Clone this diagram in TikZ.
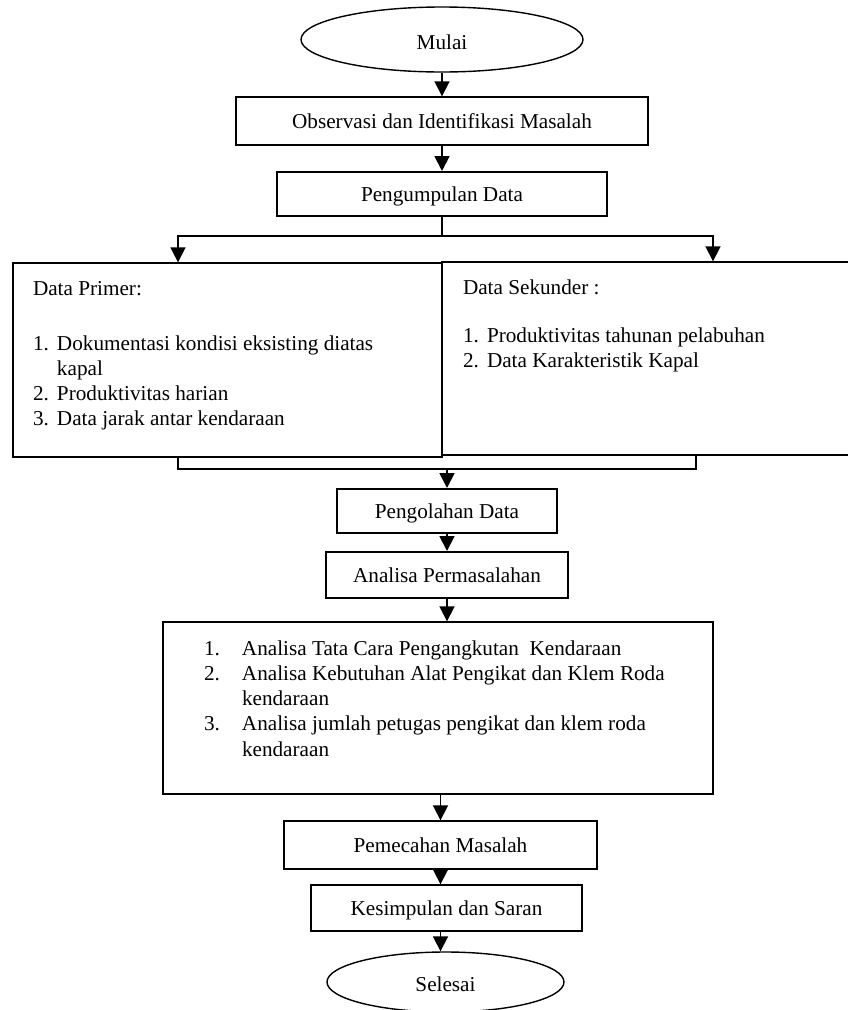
\documentclass[tikz,border=0pt]{standalone}
\usepackage{fontspec}
\setmainfont{Liberation Serif}
\usetikzlibrary{shapes.geometric, arrows.meta, calc}

\begin{document}
\begin{tikzpicture}[x=1pt, y=-1pt, every node/.style={font=\fontsize{21.2}{25.3}\selectfont}]
% Styles
\tikzstyle{terminal} = [ellipse, draw=black, line width=1.4pt, text centered, inner sep=0pt]
\tikzstyle{process} = [rectangle, draw=black, line width=1.4pt, text centered, text height=15pt, text depth=0pt, inner sep=0pt]
\tikzstyle{processbold} = [process, line width=2pt]
\tikzstyle{listbox} = [rectangle, draw=black, line width=1.4pt, inner ysep=0pt]
\tikzstyle{connector} = [line width=1.8pt]
\tikzstyle{arrow} = [connector, -{Triangle[length=15pt, width=15pt]}]

\useasboundingbox (0,0) rectangle (848,1010);

\node (mulai) [terminal, minimum width=282pt, minimum height=65pt, text height=19pt, text depth=0pt] at (442,39.5) {Mulai};
\node (observasi) [process, minimum width=412pt, minimum height=48pt] at (442,121) {Observasi dan Identifikasi Masalah};
\node (pengumpulan) [processbold, minimum width=330pt, minimum height=44pt] at (442,194) {Pengumpulan Data};
\node (primer) [listbox, inner xsep=20pt] at (227.5,360) {\parbox[c][194pt][t]{389pt}{\rule{0pt}{32pt}Data Primer:\\[29.7pt]
  \makebox[24pt][l]{1.}Dokumentasi kondisi eksisting diatas\\
  \hspace*{24pt}kapal\\
  \makebox[24pt][l]{2.}Produktivitas harian\\
  \makebox[24pt][l]{3.}Data jarak antar kendaraan}};
\node (sekunder) [listbox, inner xsep=21pt] at (661,358.5) {\parbox[c][193pt][t]{396pt}{\rule{0pt}{32pt}Data Sekunder :\\[22.7pt]
  \makebox[24pt][l]{1.}Produktivitas tahunan pelabuhan\\
  \makebox[24pt][l]{2.}Data Karakteristik Kapal}};
\node (pengolahan) [processbold, minimum width=220pt, minimum height=44pt] at (447,511) {Pengolahan Data};
\node (analisa) [processbold, minimum width=242pt, minimum height=46pt] at (447,575) {Analisa Permasalahan};
\node (rincian) [listbox, inner xsep=41pt] at (438,708) {\parbox[c][172pt][t]{468pt}{\rule{0pt}{33pt}\makebox[38pt][l]{1.}Analisa Tata Cara Pengangkutan~ Kendaraan\\
  \makebox[38pt][l]{2.}Analisa Kebutuhan Alat Pengikat dan Klem Roda\\
  \hspace*{38pt}kendaraan\\
  \makebox[38pt][l]{3.}Analisa jumlah petugas pengikat dan klem roda\\
  \hspace*{38pt}kendaraan}};
\node (pemecahan) [process, minimum width=313pt, minimum height=48pt] at (440.5,845) {Pemecahan Masalah};
\node (kesimpulan) [process, minimum width=271pt, minimum height=46pt] at (446.5,908) {Kesimpulan dan Saran};
\node (selesai) [terminal, minimum width=237pt, minimum height=60pt, text height=18pt, text depth=0pt] at (445.5,982) {Selesai};

\coordinate (cabangkiri) at (178,236);
\coordinate (cabangkanan) at (713,236);
\coordinate (gabungkiri) at (178,469);
\coordinate (gabungkanan) at (696,469);
\coordinate (gabung) at (447,469);

\draw [arrow] (mulai) -- (observasi);
\draw [arrow] (observasi) -- (pengumpulan);
\draw [connector] (pengumpulan) -- (pengumpulan |- cabangkiri);
\draw [connector, line cap=rect] (cabangkiri) -- (cabangkanan);
\draw [arrow] (cabangkiri) -- (cabangkiri |- primer.north);
\draw [arrow] (cabangkanan) -- (cabangkanan |- sekunder.north);
\draw [connector] (gabungkiri |- primer.south) |- (gabungkanan) -- (gabungkanan |- sekunder.south);
\draw [arrow] (gabung) -- (pengolahan);
\draw [arrow] (pengolahan) -- (analisa);
\draw [arrow] (analisa) -- (analisa |- rincian.north);
\draw [arrow] (pemecahan |- rincian.south) -- (pemecahan);
\draw [arrow] (pemecahan) -- (pemecahan |- kesimpulan.north);
\draw [arrow] (kesimpulan.south -| pemecahan) -- (selesai.north -| pemecahan);

\end{tikzpicture}
\end{document}
